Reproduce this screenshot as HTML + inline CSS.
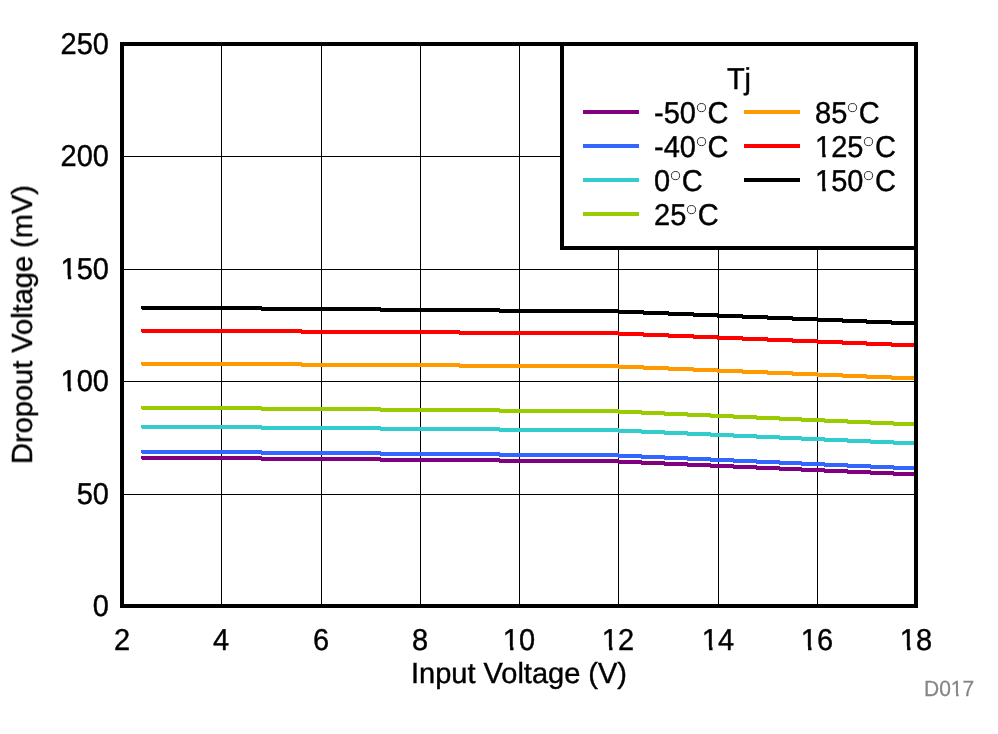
<!DOCTYPE html>
<html><head><meta charset="utf-8"><title>Dropout Voltage vs Input Voltage</title>
<style>
html,body{margin:0;padding:0;background:#fff;}
body{width:998px;height:734px;position:relative;overflow:hidden;font-family:"Liberation Sans",sans-serif;color:#000;}
.t{position:absolute;white-space:nowrap;font-size:29.0px;line-height:1;text-rendering:geometricPrecision;-webkit-text-stroke:0.4px;will-change:transform;transform-origin:0 84.65%;transform:scaleY(1.041);}
.yl{text-align:right;width:100px;left:9px;}
.xl{text-align:center;width:80px;}
.o{display:inline-block;clip-path:polygon(0 0,100% 0,100% 68%,66% 68%,66% 100%,45% 100%,45% 68%,0 68%);}
.deg{display:inline-block;width:11.6px;height:0;position:relative;font-size:0;}
.deg svg{position:absolute;left:0;bottom:9px;width:12px;height:12px;overflow:visible;}
</style></head><body>

<svg width="998" height="734" viewBox="0 0 998 734" shape-rendering="crispEdges" style="position:absolute;left:0;top:0">
<path fill="#000" d="M221 46h1v558h-1zM321 46h1v558h-1zM420 46h1v558h-1zM519 46h1v558h-1zM618 46h1v558h-1zM718 46h1v558h-1zM817 46h1v558h-1zM124 156h790v1h-790zM124 269h790v1h-790zM124 381h790v1h-790zM124 494h790v1h-790z"/>
<path fill="#800080" d="M141 456h1v3h-1zM142 456h120v4h-120zM261 457h120v4h-120zM380 458h120v4h-120zM499 459h120v4h-120zM618 460h24v4h-24zM641 461h24v4h-24zM664 462h24v4h-24zM687 463h24v4h-24zM710 464h24v4h-24zM733 465h24v4h-24zM756 466h24v4h-24zM779 467h23v4h-23zM801 468h24v4h-24zM824 469h24v4h-24zM847 470h24v4h-24zM870 471h24v4h-24zM893 472h21v4h-21z"/>
<path fill="#3366ff" d="M141 450h1v3h-1zM142 450h120v4h-120zM261 451h120v4h-120zM380 452h120v4h-120zM499 453h120v4h-120zM618 454h24v4h-24zM641 455h24v4h-24zM664 456h24v4h-24zM687 457h24v4h-24zM710 458h24v4h-24zM733 459h24v4h-24zM756 460h24v4h-24zM779 461h23v4h-23zM801 462h24v4h-24zM824 463h24v4h-24zM847 464h24v4h-24zM870 465h24v4h-24zM893 466h21v4h-21z"/>
<path fill="#33cccc" d="M141 425h1v3h-1zM142 425h120v4h-120zM261 426h120v4h-120zM380 427h120v4h-120zM499 428h120v4h-120zM618 429h24v4h-24zM641 430h24v4h-24zM664 431h24v4h-24zM687 432h24v4h-24zM710 433h24v4h-24zM733 434h24v4h-24zM756 435h24v4h-24zM779 436h23v4h-23zM801 437h24v4h-24zM824 438h24v4h-24zM847 439h24v4h-24zM870 440h24v4h-24zM893 441h21v4h-21z"/>
<path fill="#99cc00" d="M141 406h1v3h-1zM142 406h120v4h-120zM261 407h120v4h-120zM380 408h120v4h-120zM499 409h120v4h-120zM618 410h24v4h-24zM641 411h24v4h-24zM664 412h24v4h-24zM687 413h24v4h-24zM710 414h24v4h-24zM733 415h24v4h-24zM756 416h24v4h-24zM779 417h23v4h-23zM801 418h24v4h-24zM824 419h24v4h-24zM847 420h24v4h-24zM870 421h24v4h-24zM893 422h21v4h-21z"/>
<path fill="#ff9900" d="M141 362h1v3h-1zM142 362h160v4h-160zM301 363h159v4h-159zM459 364h160v4h-160zM618 365h26v4h-26zM643 366h26v4h-26zM668 367h26v4h-26zM693 368h25v4h-25zM717 369h26v4h-26zM742 370h26v4h-26zM767 371h26v4h-26zM792 372h26v4h-26zM817 373h26v4h-26zM842 374h25v4h-25zM866 375h26v4h-26zM891 376h23v4h-23z"/>
<path fill="#ff0000" d="M141 329h1v3h-1zM142 329h160v4h-160zM301 330h159v4h-159zM459 331h160v4h-160zM618 332h26v4h-26zM643 333h26v4h-26zM668 334h26v4h-26zM693 335h25v4h-25zM717 336h26v4h-26zM742 337h26v4h-26zM767 338h26v4h-26zM792 339h26v4h-26zM817 340h26v4h-26zM842 341h25v4h-25zM866 342h26v4h-26zM891 343h23v4h-23z"/>
<path fill="#000000" d="M141 306h1v3h-1zM142 306h120v4h-120zM261 307h120v4h-120zM380 308h120v4h-120zM499 309h120v4h-120zM618 310h26v4h-26zM643 311h26v4h-26zM668 312h26v4h-26zM693 313h25v4h-25zM717 314h26v4h-26zM742 315h26v4h-26zM767 316h26v4h-26zM792 317h26v4h-26zM817 318h26v4h-26zM842 319h25v4h-25zM866 320h26v4h-26zM891 321h23v4h-23z"/>
<path fill="#000" fill-rule="evenodd" d="M120 42h798v566h-798zM124 46v558h790v-558z"/>
<rect x="560" y="42" width="358" height="208" fill="#000"/><rect x="564" y="46" width="350" height="200" fill="#fff"/>
<rect x="583" y="110" width="56" height="4" fill="#800080"/>
<rect x="583" y="144" width="56" height="4" fill="#3366ff"/>
<rect x="583" y="178" width="56" height="4" fill="#33cccc"/>
<rect x="583" y="212" width="56" height="4" fill="#99cc00"/>
<rect x="744" y="110" width="56" height="4" fill="#ff9900"/>
<rect x="744" y="144" width="56" height="4" fill="#ff0000"/>
<rect x="744" y="178" width="56" height="4" fill="#000000"/>
</svg>
<div class="t yl" style="top:31.00px">250</div>
<div class="t yl" style="top:143.00px">200</div>
<div class="t yl" style="top:256.00px"><span class="o">1</span>50</div>
<div class="t yl" style="top:368.00px"><span class="o">1</span>00</div>
<div class="t yl" style="top:481.00px">50</div>
<div class="t yl" style="top:593.00px">0</div>
<div class="t xl" style="left:81.50px;top:627.00px">2</div>
<div class="t xl" style="left:181.00px;top:627.00px">4</div>
<div class="t xl" style="left:281.00px;top:627.00px">6</div>
<div class="t xl" style="left:380.00px;top:627.00px">8</div>
<div class="t xl" style="left:479.00px;top:627.00px"><span class="o">1</span>0</div>
<div class="t xl" style="left:578.00px;top:627.00px"><span class="o">1</span>2</div>
<div class="t xl" style="left:678.00px;top:627.00px"><span class="o">1</span>4</div>
<div class="t xl" style="left:777.00px;top:627.00px"><span class="o">1</span>6</div>
<div class="t xl" style="left:875.50px;top:627.00px"><span class="o">1</span>8</div>
<div class="t" style="left:319px;width:400px;text-align:center;top:660.00px;transform:none">Input Voltage (V)</div>
<div class="t" style="left:0;top:0;width:400px;text-align:center;transform-origin:0 0;transform:translate(33.5px,524.50px) rotate(-90deg) translate(0,-24.55px)">Dropout Voltage (mV)</div>
<div class="t" style="left:900px;top:679.00px;font-size:21px;color:#858585;left:923.5px;-webkit-text-stroke:0.25px">D0<span class="o">1</span>7</div>
<div class="t" style="left:564px;width:350px;text-align:center;top:66.00px">Tj</div>
<div class="t" style="left:654px;top:100.00px">-50<span class="deg">&deg;<svg viewBox="0 0 12 12"><ellipse cx="5.5" cy="6.26" rx="4.08" ry="3.92" fill="none" stroke="#000" stroke-width="0.8"/></svg></span>C</div>
<div class="t" style="left:654px;top:134.00px">-40<span class="deg">&deg;<svg viewBox="0 0 12 12"><ellipse cx="5.5" cy="6.26" rx="4.08" ry="3.92" fill="none" stroke="#000" stroke-width="0.8"/></svg></span>C</div>
<div class="t" style="left:654px;top:168.00px">0<span class="deg">&deg;<svg viewBox="0 0 12 12"><ellipse cx="5.5" cy="6.26" rx="4.08" ry="3.92" fill="none" stroke="#000" stroke-width="0.8"/></svg></span>C</div>
<div class="t" style="left:654px;top:202.00px">25<span class="deg">&deg;<svg viewBox="0 0 12 12"><ellipse cx="5.5" cy="6.26" rx="4.08" ry="3.92" fill="none" stroke="#000" stroke-width="0.8"/></svg></span>C</div>
<div class="t" style="left:815px;top:100.00px">85<span class="deg">&deg;<svg viewBox="0 0 12 12"><ellipse cx="5.5" cy="6.26" rx="4.08" ry="3.92" fill="none" stroke="#000" stroke-width="0.8"/></svg></span>C</div>
<div class="t" style="left:815px;top:134.00px"><span class="o">1</span>25<span class="deg">&deg;<svg viewBox="0 0 12 12"><ellipse cx="5.5" cy="6.26" rx="4.08" ry="3.92" fill="none" stroke="#000" stroke-width="0.8"/></svg></span>C</div>
<div class="t" style="left:815px;top:168.00px"><span class="o">1</span>50<span class="deg">&deg;<svg viewBox="0 0 12 12"><ellipse cx="5.5" cy="6.26" rx="4.08" ry="3.92" fill="none" stroke="#000" stroke-width="0.8"/></svg></span>C</div>
</body></html>
